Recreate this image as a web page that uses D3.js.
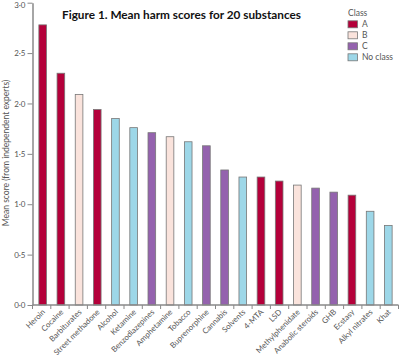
<!DOCTYPE html>
<html><head><meta charset="utf-8">
<script src="https://cdn.jsdelivr.net/npm/d3@7"></script>
<style>body{margin:0;background:#fff}svg{display:block}</style>
</head><body>
<svg id="c" width="400" height="356"></svg>
<script>
const substances = ["Heroin","Cocaine","Barbiturates","Street methadone","Alcohol","Ketamine","Benzodiazepines","Amphetamine","Tobacco","Buprenorphine","Cannabis","Solvents","4-MTA","LSD","Methylphenidate","Anabolic steroids","GHB","Ecstasy","Alkyl nitrates","Khat"];
const scores = [2.78,2.30,2.09,1.94,1.85,1.76,1.71,1.67,1.62,1.58,1.34,1.27,1.27,1.23,1.19,1.16,1.12,1.09,0.93,0.79];
const classes = ["A","A","B","A","No class","No class","C","B","No class","C","C","No class","A","A","B","C","C","A","No class","No class"];
const classNames = ["A","B","C","No class"];
const classColors = ["#b4003a","#fae3dc","#9462ae","#9dd7e8"];
const yTicks = [0,0.5,1,1.5,2,2.5,3];

const svg = d3.select("#c");
const font = "'Lato', 'Open Sans', sans-serif";
const axisX = 32.5, y0 = 305, yTop = 2.7, xEnd = 398.5;
const x = d3.scaleBand().domain(substances).range([axisX, xEnd]).paddingInner(0.58).paddingOuter(0.35);
const y = d3.scaleLinear().domain([0,3]).range([y0, yTop]);
const color = d3.scaleOrdinal().domain(classNames).range(classColors);
const fmt = d => d.toFixed(1).replace(".", "\u00b7");

// bars
svg.append("g").selectAll("rect").data(substances).join("rect")
  .attr("x", d => x(d)).attr("width", x.bandwidth())
  .attr("y", (d,i) => y(scores[i])).attr("height", (d,i) => y0 - y(scores[i]))
  .attr("fill", (d,i) => color(classes[i]))
  .attr("stroke", "#777").attr("stroke-width", 0.8);

// y axis
const ya = svg.append("g").attr("transform", `translate(${axisX},0)`)
  .call(d3.axisLeft(y).tickValues(yTicks).tickFormat(fmt).tickSize(5).tickSizeOuter(0));
ya.select(".domain").attr("stroke", "#888").attr("stroke-width", 1.5);
ya.selectAll(".tick line").attr("stroke", "#888");
ya.selectAll(".tick text").attr("fill", "#555").style("font-family", font).style("font-size", "8px").attr("x", -7)
  .attr("dy", d => d === 3 ? "0.62em" : "0.32em");

// x axis
const xTickPos = d3.range(substances.length + 1).map(i => axisX + i * (xEnd - axisX) / substances.length);
const xa = svg.append("g").attr("transform", `translate(0,${y0})`);
xa.append("line").attr("x1", axisX).attr("x2", xEnd).attr("stroke", "#888").attr("stroke-width", 1.5);
xa.selectAll("line.t").data(xTickPos).join("line").attr("class","t")
  .attr("x1", d => d).attr("x2", d => d).attr("y1", 0).attr("y2", 4).attr("stroke", "#888");
xa.selectAll("text").data(substances).join("text")
  .attr("transform", d => `translate(${x(d) + x.bandwidth()/2 + 3},7.5) rotate(-45)`)
  .attr("text-anchor", "end").attr("fill", "#555")
  .style("font-family", font).style("font-size", "7.8px").text(d => d);

// y label
svg.append("text").attr("transform", "translate(9,153) rotate(-90)")
  .attr("text-anchor", "middle").attr("fill", "#555")
  .style("font-family", font).style("font-size", "8.5px")
  .text("Mean score (from independent experts)");

// title
svg.append("text").attr("x", 62).attr("y", 19)
  .style("font-family", font).style("font-size", "12px").style("font-weight", "bold").attr("fill", "#111")
  .attr("textLength", 239).attr("lengthAdjust", "spacingAndGlyphs")
  .text("Figure 1. Mean harm scores for 20 substances");

// legend
const lg = svg.append("g").attr("transform", "translate(348,0)");
lg.append("text").attr("x", 0).attr("y", 16).attr("fill", "#555")
  .style("font-family", font).style("font-size", "8.5px").text("Class");
const li = lg.selectAll("g.i").data(classNames).join("g").attr("class","i")
  .attr("transform", (d,i) => `translate(0,${24.3 + i*11})`);
li.append("rect").attr("x", 0).attr("y", -3.5).attr("width", 9.5).attr("height", 7)
  .attr("fill", d => color(d)).attr("stroke", "#777").attr("stroke-width", 0.8);
li.append("text").attr("x", 14).attr("y", 3).attr("fill", "#555")
  .style("font-family", font).style("font-size", "8.5px").text(d => d);
</script>
</body></html>
